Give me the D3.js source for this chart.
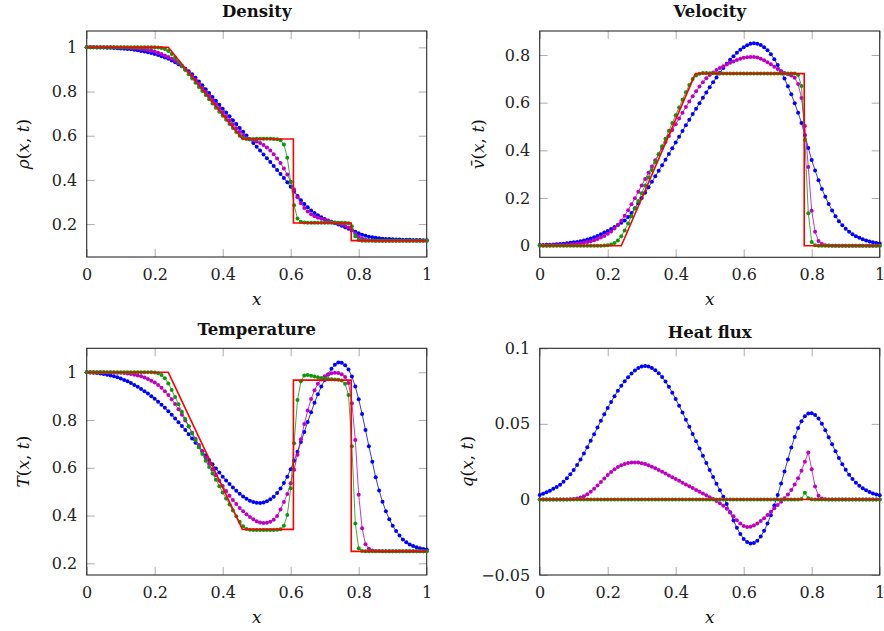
<!DOCTYPE html>
<html><head><meta charset="utf-8">
<script src="https://cdn.jsdelivr.net/npm/d3@7"></script>
<style>
body{margin:0;background:#fff}
svg{display:block}
text{font-family:"DejaVu Serif",serif}
</style>
</head><body>
<svg id="chart" width="884" height="631"></svg>
<script>
// ---------------- data ----------------
const xGrid = [0,0.01,0.02,0.03,0.04,0.05,0.06,0.07,0.08,0.09,
0.10,0.11,0.12,0.13,0.14,0.15,0.16,0.17,0.18,0.19,
0.20,0.21,0.22,0.23,0.24,0.25,0.26,0.27,0.28,0.29,
0.30,0.31,0.32,0.33,0.34,0.35,0.36,0.37,0.38,0.39,
0.40,0.41,0.42,0.43,0.44,0.45,0.46,0.47,0.48,0.49,
0.50,0.51,0.52,0.53,0.54,0.55,0.56,0.57,0.58,0.59,
0.60,0.61,0.62,0.63,0.64,0.65,0.66,0.67,0.68,0.69,
0.70,0.71,0.72,0.73,0.74,0.75,0.76,0.77,0.78,0.79,
0.80,0.81,0.82,0.83,0.84,0.85,0.86,0.87,0.88,0.89,
0.90,0.91,0.92,0.93,0.94,0.95,0.96,0.97,0.98,0.99,1.00];

const xTicks = [0,0.2,0.4,0.6,0.8,1];
const xTickLabels = ["0","0.2","0.4","0.6","0.8","1"];

// Density
const rhoBlue = [1.000,1.000,1.000,0.999,0.999,0.999,0.998,0.998,0.997,0.996,
0.995,0.994,0.993,0.991,0.989,0.987,0.984,0.981,0.978,0.974,
0.970,0.965,0.960,0.954,0.948,0.941,0.933,0.924,0.914,0.903,
0.892,0.878,0.862,0.845,0.828,0.810,0.793,0.775,0.758,0.740,
0.722,0.705,0.688,0.670,0.653,0.635,0.618,0.601,0.584,0.567,
0.550,0.533,0.515,0.498,0.481,0.463,0.445,0.427,0.409,0.389,
0.369,0.348,0.327,0.308,0.291,0.276,0.262,0.250,0.240,0.231,
0.223,0.216,0.210,0.204,0.198,0.192,0.186,0.179,0.172,0.165,
0.158,0.152,0.147,0.143,0.140,0.138,0.136,0.134,0.133,0.132,
0.131,0.130,0.130,0.129,0.129,0.129,0.128,0.128,0.128,0.127,0.127];
const rhoMagenta = [1.000,1.000,1.000,1.000,1.000,1.000,1.000,1.000,1.000,0.999,
0.999,0.999,0.998,0.997,0.996,0.995,0.993,0.991,0.988,0.985,
0.981,0.976,0.970,0.963,0.956,0.948,0.939,0.928,0.915,0.900,
0.885,0.869,0.852,0.834,0.816,0.798,0.780,0.761,0.743,0.724,
0.706,0.688,0.670,0.652,0.634,0.617,0.602,0.590,0.584,0.579,
0.574,0.567,0.558,0.547,0.533,0.516,0.497,0.476,0.452,0.424,
0.392,0.356,0.322,0.294,0.273,0.257,0.245,0.236,0.229,0.224,
0.219,0.215,0.211,0.207,0.203,0.198,0.192,0.184,0.172,0.157,
0.143,0.134,0.129,0.127,0.126,0.125,0.125,0.125,0.125,0.125,
0.125,0.125,0.125,0.125,0.125,0.125,0.125,0.125,0.125,0.125,0.125];
const rhoGreen = [1,1,1,1,1,1,1,1,1,1,
1,1,1,1,1,1,1,1,1,1,
1.000,0.999,0.997,0.992,0.983,0.970,0.953,0.935,0.916,0.897,
0.878,0.859,0.840,0.821,0.802,0.784,0.765,0.746,0.727,0.709,
0.690,0.672,0.653,0.635,0.617,0.600,0.589,0.585,0.584,0.585,
0.586,0.586,0.586,0.586,0.586,0.585,0.584,0.580,0.560,0.500,
0.390,0.285,0.225,0.210,0.207,0.206,0.206,0.206,0.206,0.206,
0.206,0.206,0.206,0.206,0.206,0.206,0.206,0.204,0.190,0.145,
0.128,0.125,0.125,0.125,0.125,0.125,0.125,0.125,0.125,0.125,
0.125,0.125,0.125,0.125,0.125,0.125,0.125,0.125,0.125,0.125,0.125];
const rhoEulerX = [0,0.24,0.458,0.608,0.608,0.778,0.778,1];
const rhoEulerY = [1,1,0.585,0.585,0.205,0.205,0.125,0.125];
const rhoTicks = [0.2,0.4,0.6,0.8,1];
const rhoTickLabels = ["0.2","0.4","0.6","0.8","1"];

// Velocity
const velBlue = [0.003,0.003,0.004,0.004,0.005,0.006,0.007,0.008,0.010,0.012,
0.014,0.016,0.019,0.022,0.026,0.030,0.035,0.041,0.048,0.055,
0.062,0.070,0.078,0.087,0.096,0.106,0.120,0.137,0.157,0.178,
0.200,0.222,0.245,0.268,0.291,0.314,0.337,0.361,0.385,0.409,
0.433,0.457,0.481,0.505,0.528,0.552,0.575,0.598,0.621,0.643,
0.665,0.686,0.706,0.726,0.745,0.763,0.780,0.795,0.809,0.822,
0.833,0.841,0.847,0.849,0.847,0.842,0.833,0.820,0.803,0.782,
0.758,0.731,0.701,0.669,0.635,0.598,0.558,0.515,0.464,0.410,
0.360,0.315,0.275,0.238,0.205,0.175,0.148,0.124,0.103,0.086,
0.071,0.059,0.048,0.040,0.033,0.027,0.022,0.018,0.014,0.011,0.009];
const velMagenta = [0.001,0.001,0.001,0.001,0.002,0.002,0.003,0.003,0.004,0.005,
0.006,0.008,0.010,0.012,0.015,0.019,0.023,0.028,0.034,0.041,
0.050,0.060,0.072,0.087,0.105,0.126,0.149,0.174,0.199,0.226,
0.253,0.280,0.306,0.332,0.358,0.384,0.410,0.435,0.460,0.485,
0.510,0.534,0.558,0.582,0.605,0.627,0.648,0.668,0.686,0.702,
0.716,0.727,0.737,0.745,0.753,0.760,0.767,0.773,0.779,0.784,
0.788,0.791,0.792,0.792,0.789,0.784,0.778,0.770,0.761,0.751,
0.741,0.732,0.725,0.719,0.714,0.705,0.678,0.620,0.502,0.330,
0.147,0.058,0.020,0.007,0.002,0.001,0,0,0,0,
0,0,0,0,0,0,0,0,0,0,0];
const velGreen = [0,0,0,0,0,0,0,0,0,0,
0,0,0,0,0,0,0,0,0,0.001,
0.002,0.005,0.011,0.022,0.040,0.064,0.093,0.124,0.156,0.188,
0.220,0.253,0.286,0.318,0.351,0.384,0.417,0.449,0.482,0.515,
0.547,0.580,0.612,0.644,0.674,0.699,0.714,0.721,0.724,0.724,
0.723,0.723,0.722,0.722,0.722,0.722,0.722,0.722,0.722,0.722,
0.722,0.722,0.722,0.722,0.722,0.722,0.722,0.722,0.722,0.722,
0.722,0.722,0.722,0.722,0.722,0.722,0.716,0.670,0.443,0.136,
0.015,0.002,0,0,0,0,0,0,0,0,
0,0,0,0,0,0,0,0,0,0,0];
const velEulerX = [0,0.24,0.458,0.778,0.778,1];
const velEulerY = [0,0,0.722,0.722,0,0];
const velTicks = [0,0.2,0.4,0.6,0.8];
const velTickLabels = ["0","0.2","0.4","0.6","0.8"];

// Temperature
const tempBlue = [1.000,0.999,0.998,0.997,0.995,0.993,0.990,0.987,0.983,0.979,
0.974,0.968,0.962,0.955,0.947,0.939,0.930,0.921,0.911,0.900,
0.889,0.877,0.864,0.851,0.837,0.822,0.807,0.791,0.775,0.758,
0.741,0.723,0.705,0.687,0.669,0.651,0.633,0.615,0.597,0.580,
0.563,0.547,0.532,0.517,0.504,0.491,0.480,0.470,0.462,0.457,
0.454,0.453,0.455,0.460,0.468,0.479,0.494,0.513,0.536,0.563,
0.594,0.629,0.667,0.708,0.750,0.792,0.833,0.872,0.908,0.940,
0.968,0.991,1.015,1.032,1.041,1.040,1.030,1.012,0.982,0.940,
0.887,0.825,0.758,0.690,0.625,0.560,0.505,0.458,0.418,0.385,
0.357,0.335,0.316,0.300,0.288,0.279,0.272,0.267,0.263,0.260,0.258];
const tempMagenta = [1.000,1.000,1.000,1.000,1.000,1.000,0.999,0.999,0.999,0.998,
0.998,0.997,0.995,0.993,0.990,0.987,0.983,0.978,0.972,0.965,
0.957,0.947,0.935,0.921,0.905,0.887,0.867,0.845,0.822,0.798,
0.773,0.747,0.721,0.695,0.669,0.643,0.618,0.593,0.569,0.546,
0.524,0.503,0.483,0.465,0.448,0.432,0.418,0.405,0.394,0.384,
0.376,0.371,0.369,0.370,0.374,0.382,0.398,0.425,0.457,0.490,
0.535,0.592,0.655,0.720,0.783,0.840,0.888,0.925,0.952,0.970,
0.983,0.991,0.996,0.998,0.997,0.992,0.980,0.955,0.870,0.716,
0.487,0.347,0.280,0.261,0.254,0.252,0.251,0.250,0.250,0.250,
0.250,0.250,0.250,0.250,0.250,0.250,0.250,0.250,0.250,0.250,0.250];
const tempGreen = [1,1,1,1,1,1,1,1,1,1,
1,1,1,1,1,1,1,1,1,1,
0.999,0.996,0.989,0.975,0.953,0.926,0.897,0.866,0.835,0.804,
0.774,0.744,0.715,0.686,0.658,0.630,0.603,0.576,0.550,0.523,
0.497,0.471,0.446,0.421,0.397,0.374,0.355,0.344,0.340,0.339,
0.339,0.339,0.339,0.339,0.339,0.339,0.340,0.343,0.357,0.402,
0.514,0.703,0.884,0.962,0.987,0.989,0.986,0.982,0.979,0.976,
0.974,0.972,0.971,0.970,0.969,0.966,0.952,0.905,0.690,0.367,
0.263,0.252,0.250,0.250,0.250,0.250,0.250,0.250,0.250,0.250,
0.250,0.250,0.250,0.250,0.250,0.250,0.250,0.250,0.250,0.250,0.250];
const tempEulerX = [0,0.24,0.458,0.608,0.608,0.778,0.778,1];
const tempEulerY = [1,1,0.342,0.342,0.967,0.967,0.25,0.25];
const tempTicks = [0.2,0.4,0.6,0.8,1];
const tempTickLabels = ["0.2","0.4","0.6","0.8","1"];

// Heat flux
const heatBlue = [0.0030,0.0038,0.0047,0.0058,0.0070,0.0083,0.0097,0.0117,0.0140,0.0166,
0.0195,0.0228,0.0264,0.0304,0.0346,0.0389,0.0432,0.0476,0.0520,0.0563,
0.0605,0.0645,0.0683,0.0719,0.0752,0.0782,0.0809,0.0833,0.0853,0.0869,
0.0879,0.0883,0.0880,0.0870,0.0855,0.0835,0.0810,0.0780,0.0745,0.0706,
0.0664,0.0620,0.0575,0.0528,0.0481,0.0433,0.0385,0.0337,0.0289,0.0241,
0.0194,0.0148,0.0103,0.0060,0.0018,-0.0030,-0.0085,-0.0140,-0.0188,-0.0229,
-0.0261,-0.0282,-0.0291,-0.0288,-0.0273,-0.0246,-0.0208,-0.0160,-0.0104,-0.0040,
0.0030,0.0105,0.0185,0.0265,0.0343,0.0413,0.0472,0.0518,0.0551,0.0568,
0.0570,0.0558,0.0535,0.0500,0.0458,0.0412,0.0365,0.0318,0.0274,0.0233,
0.0196,0.0163,0.0135,0.0111,0.0091,0.0074,0.0060,0.0049,0.0040,0.0033,0.0027];
const heatMagenta = [0,0,0,0,0,0,0,0,0,0.0001,
0.0003,0.0006,0.0012,0.0021,0.0034,0.0051,0.0071,0.0093,0.0116,0.0139,
0.0161,0.0181,0.0199,0.0214,0.0226,0.0235,0.0241,0.0244,0.0245,0.0244,
0.0240,0.0234,0.0226,0.0217,0.0206,0.0195,0.0183,0.0171,0.0159,0.0147,
0.0135,0.0123,0.0111,0.0099,0.0087,0.0075,0.0063,0.0051,0.0039,0.0027,
0.0015,0.0003,-0.0010,-0.0025,-0.0042,-0.0062,-0.0086,-0.0112,-0.0138,-0.0160,
-0.0175,-0.0182,-0.0181,-0.0173,-0.0160,-0.0143,-0.0124,-0.0103,-0.0081,-0.0059,
-0.0037,-0.0015,0.0008,0.0033,0.0062,0.0098,0.0140,0.0190,0.0250,0.0310,
0.0200,0.0085,0.0025,0.0006,0.0001,0,0,0,0,0,
0,0,0,0,0,0,0,0,0,0,0];
const heatGreen = [0,0,0,0,0,0,0,0,0,0,
0,0,0,0,0,0,0,0,0,0,
0,0,0,0,0,0,0,0,0,0,
0,0,0,0,0,0,0,0,0,0,
0,0,0,0,0,0,0,0,0,0,
0,0,0,0,0,0,0,0,0,0,
0,0,0,0,0,0,0,0,0,0,
0,0,0,0,0,0,0,0.0003,0.0045,0.0008,
0.0001,0,0,0,0,0,0,0,0,0,
0,0,0,0,0,0,0,0,0,0,0];
const heatEulerX = [0,1];
const heatEulerY = [0,0];
const heatTicks = [-0.05,0,0.05,0.1];
const heatTickLabels = ["\u22120.05","0","0.05","0.1"];

// ---------------- layout / style ----------------
const COLORS = {blue:"#0000ff", magenta:"#bf00bf", green:"#0b990b", red:"#ff0000"};

const panels = [
  {title:"Density", box:{l:86.7,r:426.7,t:31,b:257}, yDom:[0.051,1.074],
   blue:rhoBlue, magenta:rhoMagenta, green:rhoGreen, ex:rhoEulerX, ey:rhoEulerY,
   yTicks:rhoTicks, yLabels:rhoTickLabels, titleY:16.8, ylabX:23.5,
   ylab:[["\u03c1",1],["(",0],["x",1],[", ",0],["t",1],[")",0]]},
  {title:"Velocity", box:{l:539.7,r:879.7,t:31,b:257.3}, yDom:[-0.0487,0.9007],
   blue:velBlue, magenta:velMagenta, green:velGreen, ex:velEulerX, ey:velEulerY,
   yTicks:velTicks, yLabels:velTickLabels, titleY:16.8, ylabX:478.5,
   ylab:[["v\u0304",1],["(",0],["x",1],[", ",0],["t",1],[")",0]]},
  {title:"Temperature", box:{l:86.7,r:426.7,t:348.3,b:575}, yDom:[0.151,1.1005],
   blue:tempBlue, magenta:tempMagenta, green:tempGreen, ex:tempEulerX, ey:tempEulerY,
   yTicks:tempTicks, yLabels:tempTickLabels, titleY:335, ylabX:23.5,
   ylab:[["T",1],["(",0],["x",1],[", ",0],["t",1],[")",0]]},
  {title:"Heat flux", box:{l:539.7,r:879.7,t:348.3,b:575}, yDom:[-0.05,0.1],
   blue:heatBlue, magenta:heatMagenta, green:heatGreen, ex:heatEulerX, ey:heatEulerY,
   yTicks:heatTicks, yLabels:heatTickLabels, titleY:337.5, ylabX:467,
   ylab:[["q",1],["(",0],["x",1],[", ",0],["t",1],[")",0]]}
];

const svg = d3.select("#chart");
const TICK = 8;

panels.forEach(p => {
  const B = p.box;
  const x = d3.scaleLinear().domain([0,1]).range([B.l,B.r]);
  const y = d3.scaleLinear().domain(p.yDom).range([B.b,B.t]);
  const g = svg.append("g");

  const styleAxis = sel => {
    sel.select(".domain").remove();
    sel.selectAll(".tick line").attr("stroke","#ababab").attr("stroke-width",1);
    sel.selectAll(".tick text").attr("fill","#222").style("font-family","'DejaVu Serif',serif").style("font-size","16px");
  };
  g.append("g").attr("transform",`translate(0,${B.b})`)
    .call(d3.axisBottom(x).tickValues(xTicks).tickFormat((d,i)=>xTickLabels[i]).tickSizeInner(-TICK).tickSizeOuter(0).tickPadding(11.3))
    .call(styleAxis);
  g.append("g").attr("transform",`translate(0,${B.t})`)
    .call(d3.axisTop(x).tickValues(xTicks).tickFormat("").tickSizeInner(-TICK).tickSizeOuter(0))
    .call(styleAxis);
  g.append("g").attr("transform",`translate(${B.l},0)`)
    .call(d3.axisLeft(y).tickValues(p.yTicks).tickFormat((d,i)=>p.yLabels[i]).tickSizeInner(-TICK).tickSizeOuter(0).tickPadding(9.5))
    .call(styleAxis);
  g.append("g").attr("transform",`translate(${B.r},0)`)
    .call(d3.axisRight(y).tickValues(p.yTicks).tickFormat("").tickSizeInner(-TICK).tickSizeOuter(0))
    .call(styleAxis);

  g.append("rect").attr("x",B.l).attr("y",B.t).attr("width",B.r-B.l).attr("height",B.b-B.t)
    .attr("fill","none").attr("stroke","#2a2a2a").attr("stroke-width",1.1);

  const line = d3.line().x(d=>x(d[0])).y(d=>y(d[1]));
  [["blue",p.blue],["magenta",p.magenta],["green",p.green]].forEach(([c,vals])=>{
    const pts = xGrid.map((xv,i)=>[xv,vals[i]]);
    g.append("path").datum(pts).attr("d",line).attr("fill","none")
      .attr("stroke",COLORS[c]).attr("stroke-width",0.8);
    g.append("g").selectAll("circle").data(pts).join("circle")
      .attr("cx",d=>x(d[0])).attr("cy",d=>y(d[1])).attr("r",2.0)
      .attr("fill",COLORS[c]);
  });
  const ePts = p.ex.map((xv,i)=>[xv,p.ey[i]]);
  g.append("path").datum(ePts).attr("d",line).attr("fill","none")
    .attr("stroke",COLORS.red).attr("stroke-width",1.6);

  g.append("text").attr("x",(B.l+B.r)/2).attr("y",p.titleY).attr("text-anchor","middle")
    .style("font-weight","bold").style("font-size","16.5px").attr("fill","#111").text(p.title);
  g.append("text").attr("x",(B.l+B.r)/2).attr("y",B.b+48).attr("text-anchor","middle")
    .style("font-style","italic").style("font-size","17px").attr("fill","#111").text("x");
  const cy = (B.t+B.b)/2;
  const yl = g.append("text").attr("transform",`translate(${p.ylabX},${cy}) rotate(-90)`)
    .attr("text-anchor","middle").attr("dy","0.35em").style("font-size","17px").attr("fill","#111");
  p.ylab.forEach(([t,it])=>{
    yl.append("tspan").style("font-style",it?"italic":"normal").text(t);
  });
});
</script>
</body></html>
